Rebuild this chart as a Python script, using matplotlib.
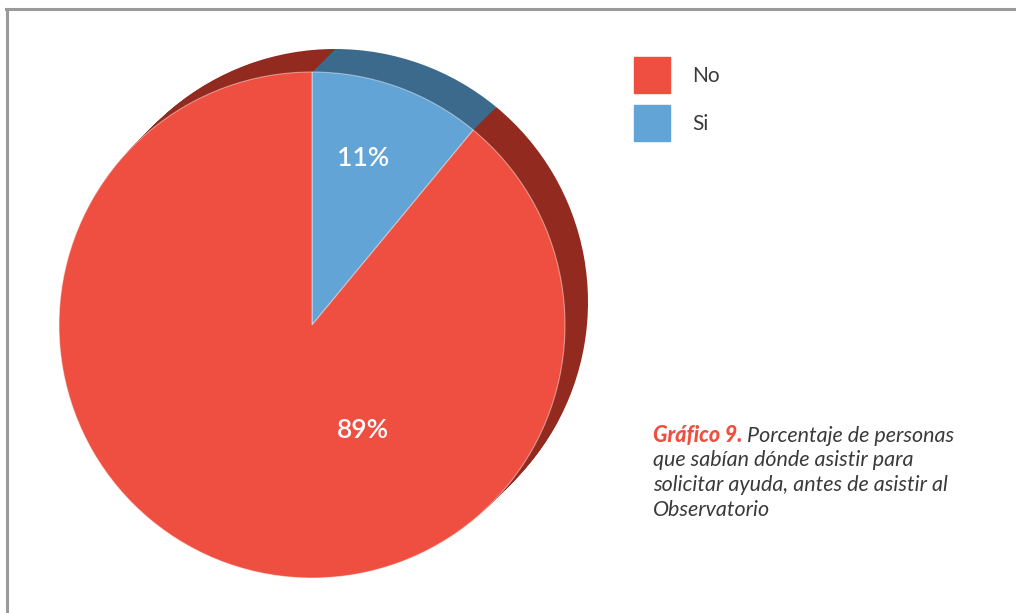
import matplotlib.pyplot as plt
import matplotlib.patches as mpatches
from matplotlib.lines import Line2D

# datos del grafico
categorias = ['Si', 'No']
porcentajes = [11, 89]
colores = ['#62A4D6', '#EE4F40']
colores_sombra = ['#3B6A8C', '#922A1F']
orden_leyenda = ['No', 'Si']
etiquetas = ['11%', '89%']

plt.rcParams['font.family'] = ['Lato', 'DejaVu Sans']

W, H = 1016, 613
fig = plt.figure(figsize=(W / 100, H / 100), dpi=100)
ax = fig.add_axes([0, 0, 1, 1])

# marco gris (arriba e izquierda)
fig.add_artist(Line2D([6 / W, 1], [1 - 9 / H, 1 - 9 / H], transform=fig.transFigure,
                      color='#9a9a9a', lw=2.2))
fig.add_artist(Line2D([7 / W, 7 / W], [0, 1 - 9 / H], transform=fig.transFigure,
                      color='#9a9a9a', lw=2.2))

cx, cy, r = 312, H - 325, 253
prof = 23  # profundidad del efecto 3D

# cara lateral: pies oscuros desplazados
for k in range(prof, 0, -1):
    ax.pie(porcentajes, colors=colores_sombra, startangle=90, counterclock=False,
           center=(cx + k, cy + k), radius=r, wedgeprops={'linewidth': 0})

wedges, _ = ax.pie(porcentajes, colors=colores, startangle=90, counterclock=False,
                   center=(cx, cy), radius=r,
                   wedgeprops={'linewidth': 0.8, 'edgecolor': (1, 1, 1, 0.45)})

# porcentajes dentro de cada rebanada
pos_etiquetas = [(cx + 51, cy + 167), (cx + 51, cy - 105)]
for (x, y), txt in zip(pos_etiquetas, etiquetas):
    ax.text(x, y, txt, color='white', fontsize=19, fontweight='semibold',
            ha='center', va='center')

ax.set_xlim(0, W)
ax.set_ylim(0, H)
ax.set_aspect('equal')
ax.axis('off')

# leyenda
handles = [mpatches.Patch(color=colores[categorias.index(c)], label=c) for c in orden_leyenda]
ax.legend(handles=handles, loc='upper left', bbox_to_anchor=(634 / W, 1 - 57 / H),
          bbox_transform=fig.transFigure, frameon=False, fontsize=15,
          handlelength=1.73, handleheight=2.29, labelspacing=0.58,
          handletextpad=1.05, borderpad=0, borderaxespad=0, labelcolor='#3a3a3a')

# pie de grafico
tam = 15.5
base = H - 442
titulo = ax.text(653, base, 'Gráfico 9.', color='#EE4F40', fontsize=tam,
                 fontweight='black', fontstyle='italic', va='baseline')
ax.annotate(' Porcentaje de personas', xy=(1, 0), xycoords=titulo,
            va='bottom', fontsize=tam, fontstyle='italic', color='#3a3a3a')
lineas = ['que sabían dónde asistir para',
          'solicitar ayuda, antes de asistir al',
          'Observatorio']
for i, linea in enumerate(lineas, start=1):
    ax.text(653, base - 24.5 * i, linea, fontsize=tam, fontstyle='italic',
            color='#3a3a3a', va='baseline')

fig.savefig('out.png', dpi=100)
